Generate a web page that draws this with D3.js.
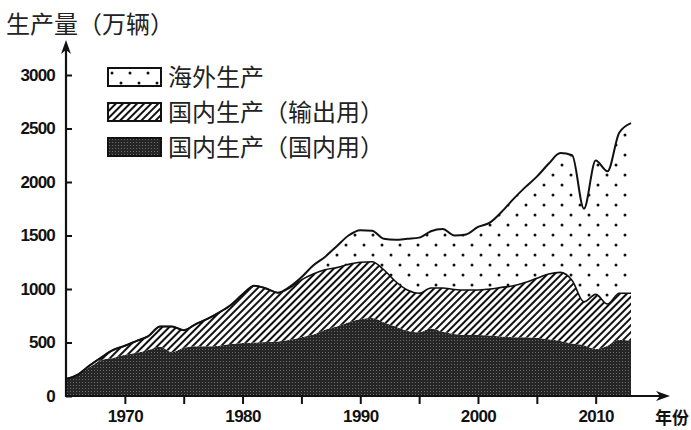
<!DOCTYPE html>
<html>
<head>
<meta charset="utf-8">
<script src="https://cdn.jsdelivr.net/npm/d3@7"></script>
<style>
  body { margin: 0; background: #fff; }
  svg { display: block; }
</style>
</head>
<body>
<div id="plot"></div>
<script>
// data (万辆)
const years = d3.range(1965, 2014);
const domesticUse = [160, 200, 270, 335, 355, 385, 405, 430, 460, 410, 450, 465, 465, 470, 485, 495, 500, 505, 510, 525,
  550, 575, 620, 650, 690, 720, 730, 690, 650, 610, 595, 630, 600, 580, 570, 570, 565, 555, 550, 550,
  545, 530, 515, 490, 475, 440, 470, 525, 515];
const exportUse = [0, 0, 15, 25, 75, 85, 110, 130, 190, 240, 165, 205, 255, 310, 365, 455, 530, 500, 455, 485,
  535, 565, 560, 550, 540, 530, 525, 490, 420, 380, 365, 380, 410, 415, 420, 420, 435, 460, 480, 510,
  555, 610, 640, 590, 405, 510, 390, 435, 445];
const overseas = [0, 0, 0, 0, 0, 0, 0, 0, 0, 0, 0, 0, 0, 0, 0, 0, 0, 0, 0, 10,
  25, 80, 120, 200, 270, 300, 290, 290, 390, 480, 520, 530, 550, 505, 520, 590, 620, 705, 810, 890,
  950, 1030, 1115, 1170, 870, 1250, 1240, 1500, 1590];
const yTicks = [0, 500, 1000, 1500, 2000, 2500, 3000];
const xTicks = d3.range(1970, 2011, 5);
const seriesNames = ["海外生产", "国内生产（输出用）", "国内生产（国内用）"];

const width = 691, height = 430;
const svg = d3.select("#plot").append("svg").attr("width", width).attr("height", height);

const x = d3.scaleLinear().domain([1965, 2013]).range([66, 631]);
const y = d3.scaleLinear().domain([0, 3000]).range([396, 75]);

// patterns
const defs = svg.append("defs");
const dark = defs.append("pattern").attr("id", "dark").attr("patternUnits", "userSpaceOnUse").attr("width", 3).attr("height", 3);
dark.append("rect").attr("width", 3).attr("height", 3).attr("fill", "#262626");
dark.append("rect").attr("x", 1).attr("y", 1).attr("width", 1).attr("height", 1).attr("fill", "#6a6a6a");

const hatch = defs.append("pattern").attr("id", "hatch").attr("patternUnits", "userSpaceOnUse")
  .attr("width", 5).attr("height", 5).attr("patternTransform", "rotate(45)");
hatch.append("rect").attr("width", 5).attr("height", 5).attr("fill", "#fff");
hatch.append("line").attr("x1", 1).attr("x2", 1).attr("y1", 0).attr("y2", 5).attr("stroke", "#111").attr("stroke-width", 2);

const dots = defs.append("pattern").attr("id", "dots").attr("patternUnits", "userSpaceOnUse").attr("width", 18).attr("height", 20);
dots.append("rect").attr("width", 18).attr("height", 20).attr("fill", "#fff");
dots.append("circle").attr("cx", 4).attr("cy", 5).attr("r", 1.5).attr("fill", "#111");
dots.append("circle").attr("cx", 13).attr("cy", 15).attr("r", 1.5).attr("fill", "#111");

// stacked areas
const table = years.map((yr, i) => ({ year: yr, domestic: domesticUse[i], export: exportUse[i], overseas: overseas[i] }));
const stack = d3.stack().keys(["domestic", "export", "overseas"]);
const layers = stack(table);
const fills = ["url(#dark)", "url(#hatch)", "url(#dots)"];

const area = d3.area().x(d => x(d.data.year)).y0(d => y(d[0])).y1(d => y(d[1])).curve(d3.curveMonotoneX);
svg.append("g").selectAll("path").data(layers).join("path").attr("d", area).attr("fill", (d, i) => fills[i]);

const topLine = d3.line().x(d => x(d.data.year)).y(d => y(d[1])).curve(d3.curveMonotoneX);
svg.append("path").datum(layers[1]).attr("d", topLine).attr("fill", "none").attr("stroke", "#111").attr("stroke-width", 1.6);
svg.append("path").datum(layers[2]).attr("d", topLine).attr("fill", "none").attr("stroke", "#111").attr("stroke-width", 2);

// axes
const numFont = "'Liberation Sans', Arial, sans-serif";
const yAxis = svg.append("g").attr("transform", "translate(66,0)")
  .call(d3.axisLeft(y).tickValues(yTicks).tickSize(-6).tickPadding(11).tickFormat(d3.format("d")));
yAxis.select(".domain").remove();
yAxis.selectAll("line").attr("stroke", "#111").attr("stroke-width", 2);
yAxis.selectAll("text").attr("font-family", numFont).attr("font-weight", "bold")
  .attr("font-size", 17).attr("fill", "#111").attr("letter-spacing", -0.8);

const xAxis = svg.append("g").attr("transform", "translate(0,396)")
  .call(d3.axisBottom(x).tickValues(xTicks).tickSize(8).tickPadding(6).tickFormat(d => d % 10 === 0 ? d : ""));
xAxis.select(".domain").remove();
xAxis.selectAll("line").attr("stroke", "#111").attr("stroke-width", 2);
xAxis.selectAll("text").attr("font-family", numFont).attr("font-weight", "bold")
  .attr("font-size", 17).attr("fill", "#111").attr("letter-spacing", -0.6);

// axis lines with arrows
svg.append("line").attr("x1", 66).attr("x2", 66).attr("y1", 397).attr("y2", 46).attr("stroke", "#111").attr("stroke-width", 2.2);
svg.append("path").attr("d", "M66,40 L61,54 L66,50 L71,54 Z").attr("fill", "#111");
svg.append("line").attr("x1", 65).attr("x2", 664).attr("y1", 396).attr("y2", 396).attr("stroke", "#111").attr("stroke-width", 2.2);
svg.append("path").attr("d", "M670,396 L656,391 L660,396 L656,401 Z").attr("fill", "#111");

const cjk = "'Noto Sans CJK SC', sans-serif";
svg.append("text").attr("x", 6).attr("y", 33).attr("font-family", cjk).attr("font-size", 24).attr("fill", "#222").text("生产量（万辆）");
svg.append("text").attr("x", 655).attr("y", 424).attr("font-family", cjk).attr("font-size", 17).attr("font-weight", "bold").attr("fill", "#111").text("年份");

// legend
const legendFills = ["url(#dots)", "url(#hatch)", "url(#dark)"];
const legend = svg.append("g").selectAll("g").data(seriesNames).join("g")
  .attr("transform", (d, i) => `translate(108,${68 + i * 35})`);
legend.append("rect").attr("width", 53).attr("height", 18).attr("fill", (d, i) => legendFills[i])
  .attr("stroke", "#111").attr("stroke-width", 2);
legend.append("text").attr("x", 60).attr("y", 18).attr("font-family", cjk).attr("font-size", 24).attr("fill", "#222").text(d => d);
</script>
</body>
</html>
